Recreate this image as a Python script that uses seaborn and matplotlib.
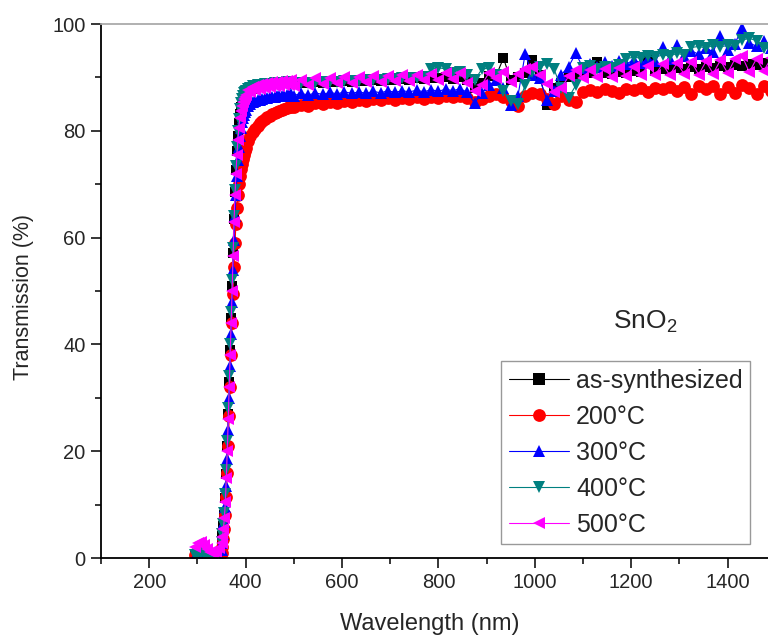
import numpy as np
import pandas as pd
import matplotlib
matplotlib.use('Agg')
import matplotlib.pyplot as plt
from matplotlib.ticker import MultipleLocator
import seaborn as sns

# =========================
# DATA
# =========================
wavelength = [
    296, 302, 308, 314, 320, 326, 332, 338, 344,
    350, 352, 354, 356, 358, 360, 362, 364, 366, 368, 370, 372, 374,
    376, 378, 380, 382, 384, 386, 388, 390, 392, 394, 396, 398,
    400, 405, 410, 415, 420, 425, 430, 435, 440, 445,
    450, 455, 460, 465, 470, 475, 480, 485, 490, 495,
    500, 515, 530, 545, 560, 575, 590, 605, 620, 635,
    650, 665, 680, 695, 710, 725, 740, 755, 770, 785,
    800, 815, 830, 845, 860, 875, 890, 905, 920, 935,
    950, 965, 980, 995, 1010, 1025, 1040, 1055, 1070, 1085,
    1100, 1115, 1130, 1145, 1160, 1175, 1190, 1205, 1220, 1235,
    1250, 1265, 1280, 1295, 1310, 1325, 1340, 1355, 1370, 1385,
    1400, 1415, 1430, 1445, 1460, 1475, 1490,
]

t_as_synth = [
    0.3, 0.4, 0.3, 0.2, 0.3, 0.2, 0.2, 0.3, 0.6,
    2.9, 4.2, 5.9, 8.0, 11.2, 15.7, 21.0, 27.0, 33.0, 39.0, 45.0, 51.0, 57.2,
    63.5, 68.5, 72.7, 76.2, 79.1, 81.4, 83.2, 84.4, 85.3, 86.0, 86.4, 86.8,
    87.0, 87.4, 87.6, 87.8, 88.0, 88.2, 88.3, 88.4, 88.5, 88.6,
    88.7, 88.7, 88.8, 88.8, 88.9, 88.9, 89.0, 89.0, 89.0, 89.1,
    88.8, 89.0, 88.9, 89.1, 89.0, 89.2, 89.1, 89.3, 89.2, 89.4,
    89.3, 89.5, 89.4, 89.6, 89.5, 89.7, 89.6, 89.8, 89.7, 89.9,
    89.8, 90.0, 89.7, 90.0, 89.5, 88.0, 89.0, 90.3, 90.4, 93.6,
    89.5, 90.0, 90.8, 93.3, 90.5, 84.8, 88.0, 89.0, 90.0, 90.6,
    90.4, 90.8, 92.9, 90.8, 90.6, 91.0, 90.8, 91.2, 91.0, 93.8,
    91.2, 91.5, 91.3, 91.7, 91.5, 91.9, 91.6, 92.0, 91.8, 92.2,
    92.0, 92.4, 92.2, 92.6, 92.3, 92.7, 92.5,
]

t_200 = [
    0.5, 0.3, 0.2, 0.3, 0.2, 0.1, 0.2, 0.3, 0.5,
    1.0, 2.0, 3.5, 5.5, 8.0, 11.5, 16.0, 21.0, 26.5, 32.0, 38.0, 44.0, 49.5,
    54.5, 59.0, 62.5, 65.5, 68.0, 70.0, 71.5, 72.8, 73.8, 74.7, 75.5, 76.2,
    76.8, 78.0, 79.0, 79.8, 80.4, 80.9, 81.4, 81.8, 82.2, 82.5,
    82.8, 83.1, 83.3, 83.5, 83.7, 83.9, 84.1, 84.2, 84.4, 84.5,
    84.4, 84.9, 84.7, 85.2, 85.0, 85.4, 85.2, 85.6, 85.4, 85.8,
    85.6, 86.0, 85.7, 86.1, 85.8, 86.2, 85.9, 86.3, 86.0, 86.4,
    86.1, 86.5, 86.3, 86.6, 86.2, 85.3, 86.0, 86.6, 86.8, 86.4,
    85.5, 84.7, 86.6, 87.0, 86.8, 86.0, 85.0, 86.5, 85.8, 85.3,
    87.2, 87.6, 87.3, 87.8, 87.5, 87.0, 87.9, 87.6, 88.0, 87.2,
    88.1, 87.8, 88.2, 87.4, 88.2, 86.8, 88.3, 87.9, 88.4, 86.9,
    88.2, 87.0, 88.5, 88.1, 86.9, 88.4, 87.5,
]

t_300 = [
    0.2, 0.3, 0.2, 0.1, 0.2, 0.2, 0.1, 0.2, 0.4,
    1.5, 2.8, 4.5, 6.8, 9.5, 13.5, 18.5, 24.0, 30.0, 36.0, 42.0, 48.0, 54.0,
    59.5, 64.0, 68.0, 71.5, 74.5, 77.0, 79.0, 80.5, 81.6, 82.4, 83.0, 83.5,
    83.9, 84.6, 85.0, 85.3, 85.5, 85.7, 85.8, 86.0, 86.1, 86.2,
    86.3, 86.3, 86.4, 86.5, 86.5, 86.6, 86.6, 86.7, 86.7, 86.8,
    86.6, 87.0, 86.7, 87.1, 86.8, 87.2, 86.9, 87.3, 87.0, 87.3,
    87.0, 87.4, 87.1, 87.5, 87.2, 87.5, 87.3, 87.6, 87.3, 87.7,
    87.4, 87.8, 87.5, 87.9, 87.2, 85.2, 87.0, 88.5, 89.5, 88.0,
    84.8, 86.5, 94.4, 90.5, 89.8, 85.8, 87.5, 90.5, 92.0, 94.5,
    91.8, 92.5, 92.0, 92.8, 92.2, 93.0, 92.5, 93.3, 92.7, 93.5,
    93.0, 95.6, 93.4, 96.0, 94.0, 95.0, 94.3, 95.5, 94.8, 97.8,
    95.2, 96.3, 99.2, 96.5, 95.8, 96.8, 95.5,
]

t_400 = [
    0.5, 0.8, 1.0, 0.8, 0.5, 0.4, 0.3, 0.5, 0.8,
    3.0, 4.5, 6.3, 8.5, 12.0, 16.5, 22.0, 28.0, 34.0, 40.0, 46.0, 52.0, 58.0,
    64.0, 69.0, 73.5, 77.0, 80.0, 82.3, 84.0, 85.2, 86.0, 86.6, 87.0, 87.3,
    87.5, 87.9, 88.1, 88.3, 88.4, 88.5, 88.6, 88.6, 88.7, 88.7,
    88.8, 88.8, 88.9, 88.9, 89.0, 89.0, 89.0, 89.1, 89.1, 89.1,
    88.8, 88.9, 89.0, 89.0, 89.1, 89.2, 89.2, 89.3, 89.4, 89.4,
    89.5, 89.5, 89.6, 89.7, 89.7, 89.8, 89.8, 89.9, 90.0, 91.6,
    91.8, 91.6, 90.8, 91.0, 90.5, 89.5, 91.5, 91.8, 90.5, 87.5,
    85.5, 85.0, 88.5, 91.0, 92.0, 92.5, 91.5, 88.0, 86.2, 88.5,
    91.8, 92.2, 91.6, 92.0, 91.8, 92.4, 93.5, 93.8, 93.6, 94.0,
    93.8, 94.2, 94.0, 94.5, 94.2, 95.6, 95.8, 95.5, 96.0, 95.7,
    96.0, 95.8, 97.0, 97.3, 96.9, 95.5, 95.2,
]

t_500 = [
    2.0, 2.8, 3.0, 2.4, 1.6, 1.1, 0.9, 1.2, 1.8,
    2.8, 4.0, 5.5, 7.5, 10.5, 15.0, 20.0, 26.0, 32.0, 38.0, 44.0, 50.0, 56.5,
    63.0, 68.0, 72.0, 75.5, 78.3, 80.6, 82.4, 83.7, 84.7, 85.4, 85.9, 86.3,
    86.7, 87.6, 87.2, 88.2, 87.6, 88.6, 87.8, 88.8, 88.0, 89.0,
    88.2, 89.1, 88.3, 89.2, 88.4, 89.3, 88.5, 89.4, 88.6, 89.5,
    88.4, 89.6, 88.6, 89.8, 88.7, 89.9, 88.9, 90.0, 89.0, 90.1,
    89.1, 90.2, 89.2, 90.3, 89.3, 90.4, 89.4, 90.5, 89.5, 90.6,
    89.6, 90.8, 89.7, 90.9, 89.0, 87.4, 88.6, 90.9, 89.8, 91.0,
    89.2, 90.6, 91.6, 92.0, 90.5, 88.8, 87.2, 88.0, 90.2, 91.3,
    89.9, 91.4, 90.0, 91.6, 90.1, 91.8, 90.3, 92.0, 90.4, 92.2,
    90.5, 92.5, 90.4, 92.7, 90.6, 92.9, 90.5, 93.0, 90.7, 93.2,
    90.8, 93.4, 94.0, 91.0, 93.5, 91.2, 93.6,
]

labels = ['as-synthesized', '200°C', '300°C', '400°C', '500°C']
colors = ['#000000', '#ff0000', '#0000ff', '#008080', '#ff00ff']
markers = ['s', 'o', '^', 'v', '<']
msizes = [7.6, 9.2, 9.2, 9.2, 9.2]

df = pd.DataFrame({
    'wl': wavelength,
    labels[0]: t_as_synth,
    labels[1]: t_200,
    labels[2]: t_300,
    labels[3]: t_400,
    labels[4]: t_500,
})

# =========================
# STYLE
# =========================
sns.set_style('ticks')
plt.rcParams['font.family'] = ['Liberation Sans', 'DejaVu Sans']
plt.rcParams['mathtext.fontset'] = 'custom'
plt.rcParams['mathtext.rm'] = 'Liberation Sans'
plt.rcParams['mathtext.it'] = 'Liberation Sans'

fig = plt.figure(figsize=(7.68, 6.37), dpi=100)
ax = fig.add_axes([101 / 768, 1 - 558 / 637, 674.8 / 768, 534 / 637])

# =========================
# PLOT
# =========================
for lab, col, mk, ms in zip(labels, colors, markers, msizes):
    sns.lineplot(
        x='wl', y=lab, data=df, ax=ax,
        color=col, marker=mk, markersize=ms,
        markeredgecolor=col, markeredgewidth=0,
        linewidth=0.8, label=lab, errorbar=None, sort=False,
    )

ax.set_xlim(100, 1500)
ax.set_ylim(0, 100)
ax.xaxis.set_major_locator(MultipleLocator(200))
ax.xaxis.set_minor_locator(MultipleLocator(100))
ax.yaxis.set_major_locator(MultipleLocator(20))
ax.yaxis.set_minor_locator(MultipleLocator(10))
ax.tick_params(which='major', direction='out', length=7, width=1.1,
               labelsize=14.5, pad=4, color='black')
ax.tick_params(which='minor', direction='out', length=4, width=1.1, color='black')

for s in ['left', 'bottom']:
    ax.spines[s].set_color('black')
    ax.spines[s].set_linewidth(1.3)
ax.spines['top'].set_color('#aaaaaa')
ax.spines['top'].set_linewidth(1.3)
ax.spines['right'].set_visible(False)

ax.set_xlabel('Wavelength (nm)', fontsize=17)
ax.set_ylabel('Transmission (%)', fontsize=15.5)
ax.xaxis.set_label_coords((430 - 101) / 674.8, (558 - 613) / 534)
ax.yaxis.set_label_coords((34 - 101) / 674.8, (558 - 297) / 534)

fig.text(645 / 768, 1 - 322 / 637, 'SnO$_2$', fontsize=19, ha='center', va='center')

leg = ax.legend(
    loc='upper left', bbox_to_anchor=(501 / 768, 1 - 361 / 637),
    bbox_transform=fig.transFigure, borderaxespad=0,
    fontsize=18, frameon=True, fancybox=False, framealpha=1,
    edgecolor='#999999', borderpad=0.3, handlelength=2.4,
    handletextpad=0.3, labelspacing=0.48, markerscale=1.0,
)
leg.get_frame().set_linewidth(1.0)
leg.legend_handles[0].set_markersize(8.6)

fig.savefig('out.png', dpi=100)
